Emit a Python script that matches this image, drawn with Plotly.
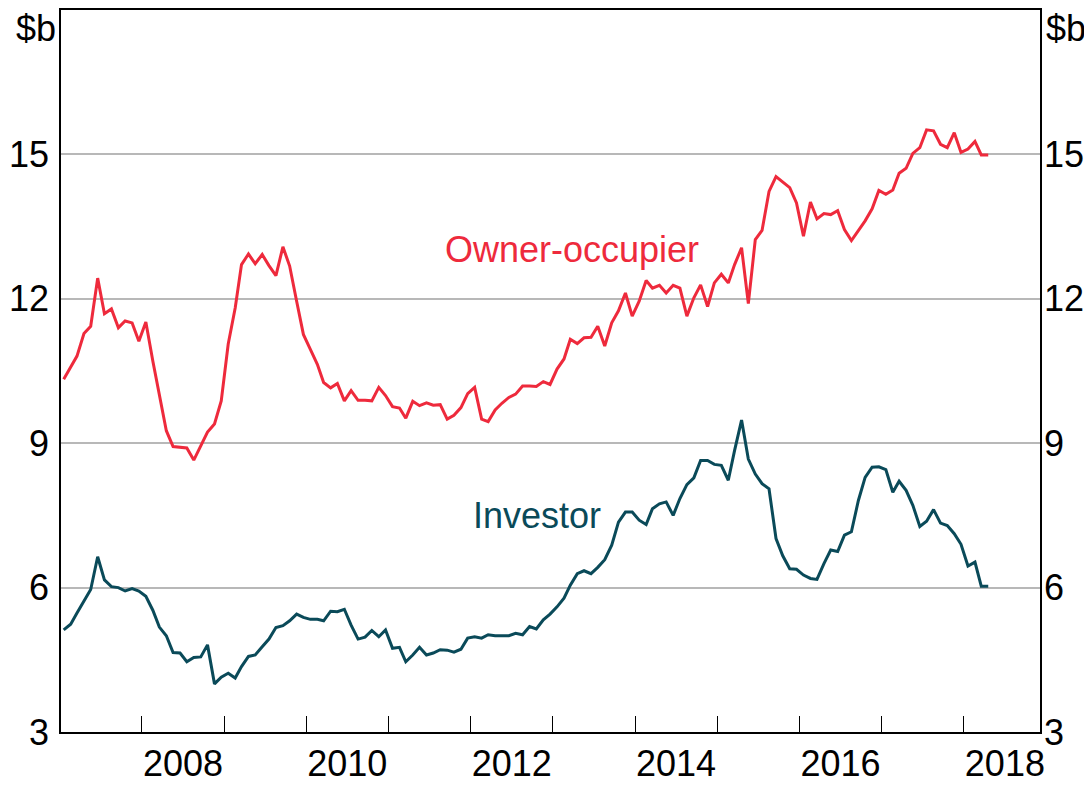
import plotly.graph_objects as go
import pandas as pd

# Monthly housing loan approvals, $b (Jan 2007 - Apr 2018)
months = pd.date_range("2007-01-01", periods=136, freq="MS") + pd.Timedelta(days=18)

owner_occupier = [
    10.33, 10.59, 10.81, 11.28, 11.43, 12.43, 11.69, 11.79, 11.40, 11.54,
    11.50, 11.12, 11.52, 10.71, 10.02, 9.26, 8.93, 8.92, 8.90, 8.65,
    8.95, 9.23, 9.40, 9.88, 11.06, 11.81, 12.71, 12.93, 12.73, 12.92,
    12.69, 12.48, 13.08, 12.68, 11.95, 11.26, 10.95, 10.64, 10.26, 10.15,
    10.24, 9.88, 10.09, 9.89, 9.89, 9.88, 10.16, 9.99, 9.76, 9.73,
    9.52, 9.87, 9.78, 9.84, 9.79, 9.80, 9.50, 9.58, 9.74, 10.03,
    10.16, 9.50, 9.45, 9.69, 9.83, 9.95, 10.02, 10.19, 10.19, 10.18,
    10.28, 10.22, 10.54, 10.75, 11.16, 11.07, 11.19, 11.20, 11.43, 11.02,
    11.50, 11.75, 12.12, 11.64, 11.95, 12.38, 12.22, 12.28, 12.12, 12.28,
    12.22, 11.64, 12.02, 12.29, 11.84, 12.33, 12.51, 12.33, 12.71, 13.06,
    11.90, 13.23, 13.42, 14.23, 14.54, 14.42, 14.31, 13.99, 13.30, 14.01,
    13.66, 13.77, 13.75, 13.83, 13.44, 13.21, 13.42, 13.62, 13.87, 14.25,
    14.17, 14.26, 14.61, 14.71, 15.02, 15.14, 15.51, 15.49, 15.21, 15.14,
    15.45, 15.04, 15.11, 15.27, 14.99, 14.99,
]

investor = [
    5.12, 5.24, 5.47, 5.71, 5.96, 6.64, 6.16, 6.02, 6.00, 5.93,
    5.98, 5.93, 5.82, 5.53, 5.18, 5.00, 4.65, 4.64, 4.46, 4.55,
    4.56, 4.81, 4.00, 4.14, 4.22, 4.12, 4.36, 4.57, 4.60, 4.77,
    4.93, 5.17, 5.21, 5.31, 5.45, 5.38, 5.34, 5.34, 5.31, 5.51,
    5.50, 5.55, 5.22, 4.93, 4.97, 5.11, 4.98, 5.12, 4.74, 4.76,
    4.46, 4.60, 4.76, 4.60, 4.64, 4.71, 4.70, 4.66, 4.72, 4.95,
    4.98, 4.95, 5.02, 5.00, 5.00, 5.00, 5.05, 5.02, 5.19, 5.14,
    5.33, 5.45, 5.60, 5.78, 6.05, 6.29, 6.35, 6.29, 6.42, 6.58,
    6.88, 7.36, 7.57, 7.57, 7.40, 7.31, 7.64, 7.74, 7.78, 7.50,
    7.85, 8.14, 8.28, 8.64, 8.64, 8.56, 8.54, 8.23, 8.85, 9.48,
    8.67, 8.36, 8.16, 8.05, 7.02, 6.66, 6.39, 6.38, 6.26, 6.19,
    6.17, 6.50, 6.78, 6.75, 7.09, 7.16, 7.81, 8.29, 8.50, 8.51,
    8.45, 7.98, 8.21, 8.02, 7.71, 7.27, 7.38, 7.62, 7.34, 7.29,
    7.12, 6.90, 6.45, 6.53, 6.03, 6.03,
]

y_ticks = [3, 6, 9, 12, 15]
year_label_dates = ["2008-07-02", "2010-07-02", "2012-07-02", "2014-07-02", "2016-07-02", "2018-07-02"]
year_labels = ["2008", "2010", "2012", "2014", "2016", "2018"]

RED = "#EE2A3C"
TEAL = "#0A4A59"
FONT = "Liberation Sans, Arial, sans-serif"
FS = 36
X_RANGE = ["2007-01-07", "2018-12-05"]
Y_RANGE = [3, 18]

fig = go.Figure()
# Investor on the primary axes, owner-occupier on the (identical) mirrored axes
fig.add_trace(go.Scatter(x=months, y=investor, mode="lines",
                         line=dict(color=TEAL, width=3), name="Investor",
                         xaxis="x", yaxis="y"))
fig.add_trace(go.Scatter(x=months, y=owner_occupier, mode="lines",
                         line=dict(color=RED, width=3), name="Owner-occupier",
                         xaxis="x2", yaxis="y2"))

# page body has an 8px margin, so the figure is sized/offset to compensate
fig.update_layout(
    width=1084, height=779,
    margin=dict(l=53, r=52, t=2, b=55, autoexpand=False),
    paper_bgcolor="white", plot_bgcolor="white",
    showlegend=False,
    font=dict(family=FONT, size=FS, color="black"),
    xaxis=dict(
        type="date", range=X_RANGE,
        tick0="2007-01-01", dtick="M12",
        ticks="inside", ticklen=16, tickwidth=1, tickcolor="black",
        showticklabels=False, showgrid=False,
        showline=True, linecolor="black", linewidth=1.5, mirror=True,
        zeroline=False,
    ),
    xaxis2=dict(
        type="date", range=X_RANGE, overlaying="x", anchor="y", side="bottom",
        tickmode="array", tickvals=year_label_dates, ticktext=year_labels,
        ticks="", showgrid=False, showline=False, zeroline=False,
        ticklabelstandoff=7,
        tickfont=dict(family=FONT, size=FS, color="black"),
    ),
    yaxis=dict(
        range=Y_RANGE, tickmode="array", tickvals=y_ticks,
        ticks="", showgrid=True, gridcolor="#B8B8B8", gridwidth=1.5,
        showline=True, linecolor="black", linewidth=1.5, mirror=True,
        zeroline=False, ticklabelstandoff=3,
        tickfont=dict(family=FONT, size=FS, color="black"),
    ),
    yaxis2=dict(
        range=Y_RANGE, overlaying="y", anchor="x", side="right",
        tickmode="array", tickvals=y_ticks,
        ticks="", showgrid=False, showline=False, zeroline=False,
        ticklabelstandoff=3,
        tickfont=dict(family=FONT, size=FS, color="black"),
    ),
)

fig.add_annotation(x="2013-03-25", y=13.03, xref="x", yref="y",
                   text="Owner-occupier", showarrow=False,
                   xanchor="center", yanchor="middle",
                   font=dict(family=FONT, size=FS, color=RED))
fig.add_annotation(x="2012-10-21", y=7.5, xref="x", yref="y",
                   text="Investor", showarrow=False,
                   xanchor="center", yanchor="middle",
                   font=dict(family=FONT, size=FS, color=TEAL))
fig.add_annotation(x=-0.0255, y=0.975, xref="paper", yref="paper",
                   text="$b", showarrow=False,
                   xanchor="center", yanchor="middle",
                   font=dict(family=FONT, size=FS, color="black"))
fig.add_annotation(x=1.0266, y=0.975, xref="paper", yref="paper",
                   text="$b", showarrow=False,
                   xanchor="center", yanchor="middle",
                   font=dict(family=FONT, size=FS, color="black"))

fig.write_html("out.html")
